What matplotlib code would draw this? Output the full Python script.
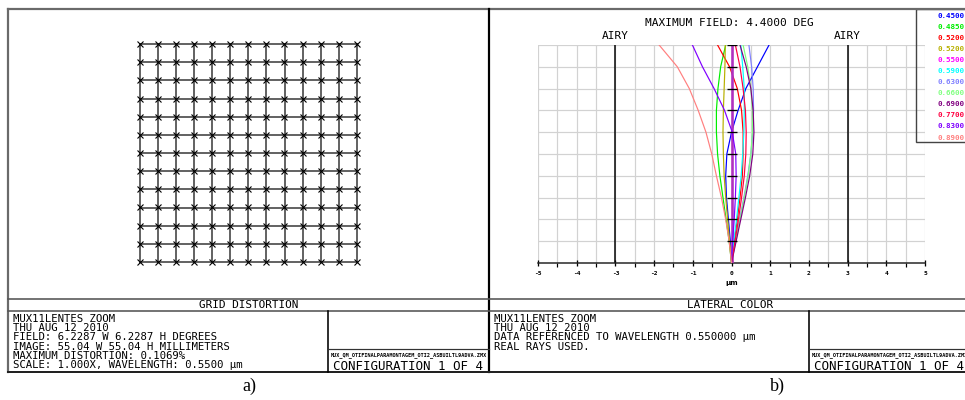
import numpy as np
import matplotlib
matplotlib.use("Agg")
import matplotlib.pyplot as plt
from matplotlib.patches import Rectangle

# Размер итоговой картинки в пикселях
W, H = 965, 400
DPI = 100

MONO = "DejaVu Sans Mono"

# --- Grid distortion (panel a) ---
GRID_N = 13
IMAGE_MM = 55.04
MAX_DISTORTION_PCT = 0.1069

# --- Lateral color (panel b) ---
MAX_FIELD_DEG = 4.4
AIRY_UM = 3.0
FIELD_DEG = [0.0, 0.44, 0.88, 1.32, 1.76, 2.20, 2.64, 3.08, 3.52, 3.96, 4.40]

WAVELENGTHS = ["0.4500", "0.4850", "0.5200", "0.5200", "0.5500", "0.5900",
               "0.6300", "0.6600", "0.6900", "0.7700", "0.8300", "0.8900"]
WL_COLORS = ["#0000ff", "#00ee00", "#ff0000", "#b8b000", "#ff00ff", "#00ffff",
             "#8080ff", "#80ff80", "#800080", "#ff0040", "#8000ff", "#ff8080"]

# смещение главного луча относительно 0.55 мкм, по полю снизу вверх
LC_0450 = [0, -0.03, -0.08, -0.13, -0.15, -0.12, 0.00, 0.17, 0.37, 0.67, 0.97]
LC_0485 = [0, -0.06, -0.14, -0.22, -0.30, -0.36, -0.39, -0.39, -0.35, -0.28, -0.15]
LC_0520 = [0, 0.07, 0.15, 0.22, 0.28, 0.30, 0.30, 0.26, 0.15, -0.05, -0.36]
LC_0520B = [0, -0.05, -0.10, -0.15, -0.19, -0.21, -0.22, -0.21, -0.19, -0.17, -0.16]
LC_0550 = [0, 0, 0, 0, 0, 0, 0, 0, 0, 0, 0]
LC_0590 = [0, 0.06, 0.13, 0.19, 0.25, 0.29, 0.32, 0.33, 0.33, 0.29, 0.24]
LC_0630 = [0, 0.10, 0.21, 0.32, 0.42, 0.50, 0.55, 0.57, 0.56, 0.52, 0.45]
LC_0660 = [0, 0.11, 0.22, 0.33, 0.43, 0.50, 0.54, 0.54, 0.50, 0.42, 0.30]
LC_0690 = [0, 0.12, 0.24, 0.36, 0.47, 0.55, 0.58, 0.56, 0.50, 0.38, 0.22]
LC_0770 = [0, 0.09, 0.18, 0.26, 0.33, 0.37, 0.38, 0.36, 0.30, 0.22, 0.10]
LC_0830 = [0, 0.03, 0.07, 0.10, 0.12, 0.11, 0.02, -0.18, -0.45, -0.75, -1.01]
LC_0890 = [0, -0.06, -0.15, -0.26, -0.39, -0.51, -0.66, -0.86, -1.09, -1.40, -1.87]

LATERAL = [LC_0450, LC_0485, LC_0520, LC_0520B, LC_0550, LC_0590,
           LC_0630, LC_0660, LC_0690, LC_0770, LC_0830, LC_0890]

INFO_A = ["MUX11LENTES ZOOM",
          "THU AUG 12 2010",
          "FIELD: 6.2287 W 6.2287 H DEGREES",
          "IMAGE: 55.04 W 55.04 H MILLIMETERS",
          "MAXIMUM DISTORTION: 0.1069%",
          "SCALE: 1.000X, WAVELENGTH: 0.5500 \u00b5m"]
INFO_B = ["MUX11LENTES ZOOM",
          "THU AUG 12 2010",
          "DATA REFERENCED TO WAVELENGTH 0.550000 \u00b5m",
          "REAL RAYS USED."]
LENS_FILE = "MUX_QM_OTIFINALPARAMONTAGEM_OTI2_ASBUILTL9ADVA.ZMX"
CONFIG = "CONFIGURATION 1 OF 4"

# пиксельная рамка графика поперечного хроматизма
LC_BOX = (538, 45, 925, 263)


def px_axes(fig, x0, y0, x1, y1, **kw):
    """Оси по пиксельному прямоугольнику (y сверху вниз)."""
    return fig.add_axes([x0 / W, 1 - y1 / H, (x1 - x0) / W, (y1 - y0) / H], **kw)


def pw(px):
    """Толщина линии из пикселей в пункты."""
    return px * 72.0 / DPI


fig = plt.figure(figsize=(W / DPI, H / DPI), dpi=DPI)
fig.patch.set_facecolor("white")

# ---------- Panel a: grid distortion ----------
axg = px_axes(fig, 139.5, 44, 357, 262)
half = IMAGE_MM / 2
ideal = np.linspace(-half, half, GRID_N)
gx, gy = np.meshgrid(ideal, ideal)
r2 = (gx ** 2 + gy ** 2) / (2 * half ** 2)
k = 1 - MAX_DISTORTION_PCT / 100 * r2
for v in ideal:
    axg.plot([v, v], [-half, half], color="#333333", lw=pw(1.5), clip_on=False)
    axg.plot([-half, half], [v, v], color="#333333", lw=pw(1.5), clip_on=False)
axg.plot((gx * k).ravel(), (gy * k).ravel(), "x", color="black",
         ms=5, mew=0.8, clip_on=False)
axg.set_xlim(-half, half)
axg.set_ylim(-half, half)
axg.axis("off")

# ---------- Panel b: lateral color ----------
axl = px_axes(fig, *LC_BOX)
axl.set_xlim(-5, 5)
axl.set_ylim(0, MAX_FIELD_DEG)
for xv in np.arange(-5, 5.01, 0.5):
    axl.axvline(xv, color="#d2d2d2", lw=pw(1.2), zorder=0)
for fv in FIELD_DEG[1:]:
    axl.axhline(fv, color="#d2d2d2", lw=pw(1.2), zorder=0)
for a in (-AIRY_UM, AIRY_UM):
    axl.axvline(a, color="black", lw=pw(1.5), zorder=1)

for vals, col in zip(LATERAL, WL_COLORS):
    lw = pw(2.6) if col == "#ff00ff" else pw(1.2)
    c = "#b030c0" if col == "#ff00ff" else col
    axl.plot(vals, FIELD_DEG, color=c, lw=lw, zorder=3)

# короткие риски поля на оси x = 0
axl.hlines(FIELD_DEG[1:], -0.12, 0.13, color="black", lw=pw(1.3), zorder=4)

for side in ("top", "left", "right"):
    axl.spines[side].set_visible(False)
axl.spines["bottom"].set_linewidth(pw(1.5))
axl.spines["bottom"].set_color("#222222")
axl.set_yticks([])
axl.set_xticks(range(-5, 6))
axl.set_xticklabels([str(v) for v in range(-5, 6)], fontsize=4.5,
                    fontweight="bold", family=MONO)
axl.set_xticks(np.arange(-4.5, 5, 1.0), minor=True)
axl.tick_params(axis="x", which="major", direction="inout", length=5,
                width=pw(1.3), pad=3)
axl.tick_params(axis="x", which="minor", direction="out", length=3,
                width=pw(1.2))
axl.set_xlabel("\u00b5m", fontsize=5, fontweight="bold", labelpad=3)

# ---------- Frames, titles and info blocks (drawn on top) ----------
base = fig.add_axes([0, 0, 1, 1], zorder=5)
base.patch.set_alpha(0)
base.set_xlim(0, W)
base.set_ylim(H, 0)
base.axis("off")

base.plot([8, 975], [9, 9], color="#6a6a6a", lw=pw(2.2))
base.plot([8, 8], [9, 372], color="#6a6a6a", lw=pw(2.2))
base.plot([489, 489], [9, 372], color="black", lw=pw(2.2))
base.plot([8, 975], [299, 299], color="#555555", lw=pw(1.6))
base.plot([8, 975], [310.5, 310.5], color="#555555", lw=pw(1.6))
base.plot([8, 975], [372, 372], color="#222222", lw=pw(2.0))

for x0, info, title in ((8, INFO_A, "GRID DISTORTION"),
                        (489, INFO_B, "LATERAL COLOR")):
    xdiv = x0 + 320
    base.plot([xdiv, xdiv], [310.5, 372], color="black", lw=pw(1.6))
    base.plot([xdiv, x0 + 481], [348.5, 348.5], color="#333333", lw=pw(1.2))
    base.text(x0 + 241, 305, title, ha="center", va="center",
              family=MONO, fontsize=7.9)
    for i, line in enumerate(info):
        base.text(x0 + 5, 313.5 + i * 9.35, line, ha="left", va="top",
                  family=MONO, fontsize=7.7)
    base.text(xdiv + 3, 355.5, LENS_FILE, ha="left", va="center",
              family=MONO, fontsize=3.7, fontweight="bold")
    base.text(xdiv + 5, 366, CONFIG, ha="left", va="center",
              family=MONO, fontsize=9.0)

# подписи над графиком хроматизма
x_scale = (LC_BOX[2] - LC_BOX[0]) / 10.0
x_zero = LC_BOX[0] + 5 * x_scale
base.text(729, 22.5, "MAXIMUM FIELD: 4.4000 DEG", ha="center", va="center",
          family=MONO, fontsize=8)
for a in (-AIRY_UM, AIRY_UM):
    base.text(x_zero + a * x_scale, 36, "AIRY", ha="center", va="center",
              family=MONO, fontsize=8)

# легенда длин волн
base.add_patch(Rectangle((916, 9), 60, 133, fill=False,
                         edgecolor="#444444", lw=pw(1.4)))
for i, (wl, col) in enumerate(zip(WAVELENGTHS, WL_COLORS)):
    base.text(937, 15.5 + i * 11.1, wl, color=col, ha="left", va="center",
              family=MONO, fontsize=5.4, fontweight="bold")

base.text(249, 386, "a)", ha="center", va="center",
          family="Liberation Serif", fontsize=13)
base.text(777, 386, "b)", ha="center", va="center",
          family="Liberation Serif", fontsize=13)

fig.savefig("out.png", dpi=DPI, facecolor="white")
